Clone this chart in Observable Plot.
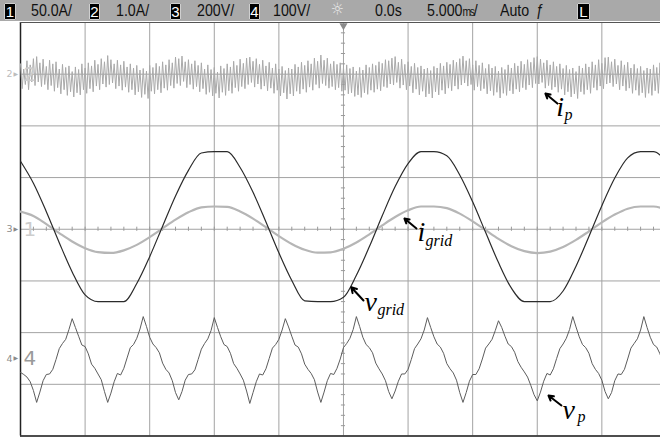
<!DOCTYPE html>
<html><head><meta charset="utf-8">
<script src="https://cdn.jsdelivr.net/npm/d3@7"></script>
<script src="https://cdn.jsdelivr.net/npm/@observablehq/plot@0.6"></script>
<style>
body{margin:0;background:#fff;width:660px;height:439px;overflow:hidden}
#hdr{position:relative;height:21px;background:#a9a9a9;font-family:"Liberation Sans",Arial,sans-serif;font-size:16.5px;color:#111}
#hdr span.t{position:absolute;top:1px;line-height:19px;white-space:nowrap;transform:scaleX(0.86);transform-origin:0 0}
#hdr span.box{position:absolute;background:#000;color:#fff;top:3px;height:17px;line-height:17px;text-align:center;font-size:15px;font-family:"Liberation Sans",Arial,sans-serif;box-shadow:inset 0 0 0 1px #cfcfcf;border-radius:1px}
#hdr span.ms{font-size:12px;letter-spacing:-1.5px}
#chart svg{display:block}
</style></head><body>
<div id="hdr"></div>
<div id="chart"></div>
<script>
// ---------- header texts ----------
const hdrTexts = ["1","50.0A/","2","1.0A/","3","200V/","4","100V/","\u263C","0.0s","5.000|ms|/","Auto","\u0192","L"];
const hdrBoxes = [0,2,4,6,13];
const hdrLeft  = [4,31,89,116,170,197,249,273,331,375,427,500,536,577];
const hdrWidth = {0:12,2:11,4:11,6:11,13:13};

// ---------- axes (divisions) ----------
const xTicks = [-25,-20,-15,-10,-5,0,5,10,15,20];     // ms, 5 ms/div
const yTicks = [-4,-3,-2,-1,0,1,2,3,4];               // divisions
const minorX = d3.range(-24, 25, 1);
const minorY = d3.range(-3.8, 3.9, 0.2);

// channel scale (units/div) and ground offset (div)
const chScale  = {i_grid:50, i_p:1, v_grid:200, v_p:100};
const chOffset = {i_grid:0,  i_p:3, v_grid:0,   v_p:-2.5};

// ---------- grid quantities, sampled every 1 ms from -25 ms ----------
const gridT0 = -25, gridDt = 1;
const vGrid = [263,178,68,-52,-165,-254,-280,-280,-280,-210,-106,12,129,228,295,300,300,239,143,28,-91,-198,-277,-280,-280,-263,-178,-68,52,165,254,300,300,284,210,106,-12,-129,-228,-280,-280,-280,-239,-143,-28,91,198,276,300,300,263];
const iGrid = [17,12.8,4.9,-3.7,-11.8,-18.3,-22.1,-22.9,-20.4,-15.1,-7.6,0.9,9.3,16.4,21.2,22,21.6,17.2,10.3,2.0,-6.6,-14.2,-19.9,-22.7,-22.4,-18.9,-12.8,-4.9,3.7,11.8,18.3,22,22,20.4,15.1,7.6,-0.9,-9.3,-16.4,-21.2,-23,-21.6,-17.2,-10.3,-2.0,6.6,14.2,19.9,22,22,18.9];

// ---------- converter quantities, sampled every 0.25 ms from -25 ms ----------
const fastT0 = -25, fastDt = 0.25;
const vP = [-27,-31,-36,-45,-62,
 -85,-65,-43,-31,-30,-21,-2,19,29,37,56,77,60,43,26,23,9,-11,-19,-30,-41,-64,
 -85,-67,-45,-29,-32,-19,1,21,27,39,57,81,62,41,28,21,11,-9,-21,-28,-43,-66,
 -80,-64,-42,-31,-30,-22,-2,18,29,38,54,79,60,42,27,23,10,-10,-19,-30,-42,-63,
 -87,-66,-45,-30,-32,-20,0,20,27,37,55,77,61,43,26,22,9,-11,-21,-29,-41,-65,
 -85,-65,-43,-29,-31,-19,-1,21,29,39,56,81,62,41,27,21,11,-9,-20,-30,-43,-64,
 -78,-63,-44,-30,-30,-21,-2,19,28,38,55,79,60,42,28,22,10,-10,-20,-28,-42,-66,
 -85,-66,-44,-31,-31,-20,-1,20,28,37,54,73,60,43,28,23,12,-6,-17,-26,-36,-52,-70,
 -82,-65,-44,-29,-32,-20,0,19,28,39,56,81,61,42,27,21,10,-10,-21,-29,-42,-64,
 -78,-66,-43,-30,-31,-21,-1,20,29,38,55,81,60,41,27,22,9,-11,-20];
const ipHi = [0.2,0.1,0.26,0.18,0.3,
 0.34,0.22,0.29,0.15,0.27,0.2,0.24,0.1,0.19,0.13,0.16,0.05,0.14,0.09,0.2,0.12,0.22,0.16,0.27,0.19,0.3,0.24,
 0.36,0.28,0.2,0.27,0.18,0.25,0.14,0.2,0.12,0.17,0.08,0.11,0.06,0.17,0.13,0.21,0.15,0.24,0.18,0.28,0.22,0.33,
 0.3,0.35,0.24,0.28,0.2,0.26,0.17,0.22,0.1,0.18,0.09,0.13,0.04,0.16,0.11,0.2,0.14,0.25,0.17,0.29,0.21,0.31,
 0.33,0.25,0.3,0.19,0.27,0.16,0.23,0.12,0.2,0.1,0.15,0.07,0.12,0.1,0.19,0.14,0.23,0.17,0.26,0.2,0.31,0.25,
 0.37,0.27,0.31,0.2,0.25,0.19,0.22,0.13,0.18,0.11,0.14,0.06,0.13,0.08,0.18,0.13,0.2,0.17,0.24,0.21,0.28,0.26,
 0.31,0.34,0.23,0.29,0.19,0.24,0.15,0.21,0.13,0.16,0.1,0.12,0.07,0.15,0.12,0.21,0.16,0.23,0.19,0.27,0.23,0.3,
 0.35,0.26,0.3,0.18,0.26,0.17,0.22,0.11,0.19,0.12,0.15,0.06,0.13,0.09,0.18,0.12,0.21,0.16,0.25,0.19,0.28,0.23,0.32,
 0.34,0.29,0.22,0.27,0.18,0.24,0.15,0.2,0.11,0.17,0.09,0.12,0.05,0.16,0.12,0.2,0.14,0.24,0.18,0.28,0.21,0.32,
 0.33,0.24,0.29,0.17,0.26,0.18,0.23,0.12,0.19,0.11,0.15,0.07,0.12,0.1,0.18,0.13,0.22,0.16,0.25];
const ipLo = [-0.28,-0.2,-0.3,-0.15,-0.22,
 -0.15,-0.24,-0.2,-0.3,-0.22,-0.33,-0.26,-0.38,-0.3,-0.41,-0.34,-0.44,-0.36,-0.4,-0.3,-0.37,-0.28,-0.34,-0.23,-0.3,-0.19,-0.25,
 -0.2,-0.17,-0.28,-0.23,-0.31,-0.25,-0.35,-0.3,-0.4,-0.34,-0.45,-0.39,-0.47,-0.33,-0.38,-0.3,-0.36,-0.27,-0.31,-0.22,-0.27,-0.18,
 -0.22,-0.14,-0.26,-0.2,-0.29,-0.24,-0.34,-0.28,-0.39,-0.35,-0.42,-0.37,-0.46,-0.35,-0.41,-0.32,-0.37,-0.26,-0.33,-0.24,-0.28,-0.2,
 -0.16,-0.25,-0.19,-0.29,-0.23,-0.32,-0.27,-0.37,-0.31,-0.42,-0.36,-0.48,-0.38,-0.42,-0.33,-0.38,-0.29,-0.35,-0.25,-0.31,-0.2,-0.27,
 -0.18,-0.22,-0.27,-0.24,-0.3,-0.26,-0.33,-0.31,-0.38,-0.36,-0.43,-0.4,-0.45,-0.36,-0.39,-0.31,-0.35,-0.29,-0.32,-0.24,-0.26,-0.19,
 -0.21,-0.16,-0.27,-0.21,-0.3,-0.23,-0.36,-0.29,-0.4,-0.33,-0.44,-0.38,-0.46,-0.34,-0.4,-0.31,-0.38,-0.27,-0.32,-0.23,-0.29,-0.21,
 -0.17,-0.23,-0.2,-0.31,-0.24,-0.32,-0.28,-0.38,-0.32,-0.41,-0.35,-0.46,-0.37,-0.41,-0.32,-0.38,-0.29,-0.34,-0.26,-0.3,-0.21,-0.26,-0.18,
 -0.19,-0.16,-0.27,-0.22,-0.3,-0.25,-0.35,-0.29,-0.4,-0.34,-0.44,-0.38,-0.47,-0.34,-0.39,-0.3,-0.37,-0.26,-0.31,-0.23,-0.28,-0.19,
 -0.17,-0.24,-0.19,-0.3,-0.23,-0.32,-0.27,-0.37,-0.31,-0.41,-0.36,-0.45,-0.37,-0.41,-0.32,-0.37,-0.28,-0.35,-0.25];

// channel ground markers
const markers = [
  {ch:"2", big:"2", div:3,    c1:"#bdbdbd", c2:"#cdcdcd"},
  {ch:"3", big:"1", div:0,    c1:"#8a8a8a", c2:"#cdcdcd"},
  {ch:"4", big:"4", div:-2.5, c1:"#8a8a8a", c2:"#9a9a9a"}
];

// annotations (time ms, division)
const notes = [
  {main:"i", sub:"p",    mt:16.48, md:2.199,  st:17.11, sd:2.122,  at1:16.56, ad1:2.431,  at2:15.63, ad2:2.625},
  {main:"i", sub:"grid", mt:5.73,  md:-0.219, st:6.35,  sd:-0.315, at1:5.65,  ad1:0.014,  at2:4.72,  ad2:0.207},
  {main:"v", sub:"grid", mt:1.63,  md:-1.572, st:2.63,  sd:-1.650, at1:1.55,  ad1:-1.379, at2:0.60,  ad2:-1.122},
  {main:"v", sub:"p",    mt:16.95, md:-3.662, st:18.11, sd:-3.720, at1:16.87, ad1:-3.410, at2:15.87, ad2:-3.217}
];

// ---------- build header ----------
const hdr = document.getElementById("hdr");
hdrTexts.forEach((txt, i) => {
  const s = document.createElement("span");
  s.style.left = hdrLeft[i] + "px";
  if (hdrBoxes.includes(i)) { s.className = "box"; s.style.width = hdrWidth[i] + "px"; }
  else s.className = "t";
  if (txt.includes("|")) {
    const [a, b, c] = txt.split("|");
    s.append(a);
    const m = document.createElement("span"); m.className = "ms"; m.textContent = b; s.append(m);
    s.append(c);
  } else s.textContent = txt;
  if (txt === "\u263C") { s.style.fontFamily = "DejaVu Sans"; s.style.fontSize = "17px"; s.style.color = "#e8e8e8"; s.style.top = "0px"; }
  hdr.appendChild(s);
});

// ---------- rows ----------
const toDiv = (v, ch) => v / chScale[ch] + chOffset[ch];
const vGridRows = vGrid.map((v, i) => ({t: gridT0 + i * gridDt, y: toDiv(v, "v_grid")}));
const iGridRows = iGrid.map((v, i) => ({t: gridT0 + i * gridDt, y: toDiv(v, "i_grid")}));
const vPRows = vP.map((v, i) => ({t: fastT0 + i * fastDt, y: toDiv(v, "v_p")}));
const ipRows = [];
for (let i = 0; i < Math.min(ipHi.length, ipLo.length); i++) {
  const t = fastT0 + i * fastDt;
  ipRows.push({t, y: toDiv(ipHi[i], "i_p")});
  ipRows.push({t: t + fastDt / 2, y: toDiv(ipLo[i], "i_p")});
}

const serif = "'Liberation Serif','Times New Roman',serif";
const chart = Plot.plot({
  width: 660, height: 418,
  marginTop: 1, marginBottom: 3.5, marginLeft: 20, marginRight: 0,
  x: {domain: [-25, 24.54], axis: null},
  y: {domain: [-4, 4], axis: null},
  style: {background: "transparent", overflow: "visible"},
  marks: [
    Plot.ruleX(xTicks, {stroke: "#a3a3a3", strokeWidth: 1}),
    Plot.ruleY(yTicks, {stroke: "#a3a3a3", strokeWidth: 1}),
    Plot.ruleX(minorX, {x: d => d, y1: -0.04, y2: 0.04, stroke: "#9a9a9a"}),
    Plot.ruleY(minorY, {y: d => d, x1: -0.16, x2: 0.16, stroke: "#9a9a9a"}),
    Plot.ruleX([-25], {stroke: "#222", strokeWidth: 1.5}),
    Plot.ruleY([-4], {stroke: "#222", strokeWidth: 1.5}),
    Plot.ruleY([4], {stroke: "#555", strokeWidth: 1}),
    Plot.dot([0], {x: d => d, y: () => 4, symbol: "triangle", rotate: 180, r: 3, fill: "#8a8a8a", stroke: null, dy: 3}),
    Plot.line(ipRows, {x: "t", y: "y", stroke: "#a9a9a9", strokeWidth: 1, clip: true}),
    Plot.line(iGridRows, {x: "t", y: "y", stroke: "#b6b6b6", strokeWidth: 2.2, curve: "monotone-x", clip: true}),
    Plot.line(vGridRows, {x: "t", y: "y", stroke: "#2b2b2b", strokeWidth: 1.2, curve: "monotone-x", clip: true}),
    Plot.line(vPRows, {x: "t", y: "y", stroke: "#5c5c5c", strokeWidth: 1, clip: true}),
    // channel ground markers (drawn above the traces)
    Plot.text(markers, {frameAnchor: "left", y: "div", text: "ch", dx: -14, textAnchor: "start", fontSize: 9.5, fill: "c1", fontFamily: "DejaVu Sans"}),
    Plot.text(markers, {frameAnchor: "left", y: "div", text: () => "\u25B6", dx: -7, textAnchor: "start", fontSize: 6, fill: "c1", fontFamily: "DejaVu Sans"}),
    Plot.text(markers, {frameAnchor: "left", y: "div", text: "big", dx: 3, textAnchor: "start", fontSize: 20, fill: "c2", fontFamily: "DejaVu Sans"}),
    // annotations
    Plot.arrow(notes, {x1: "at1", y1: "ad1", x2: "at2", y2: "ad2", stroke: "#000", strokeWidth: 2, headLength: 8}),
    Plot.text(notes, {x: "mt", y: "md", text: "main", textAnchor: "start", lineAnchor: "bottom", fontFamily: serif, fontStyle: "italic", fontSize: 28, fill: "#000"}),
    Plot.text(notes, {x: "st", y: "sd", text: "sub", textAnchor: "start", lineAnchor: "bottom", fontFamily: serif, fontStyle: "italic", fontSize: 16, fill: "#000"})
  ]
});
document.getElementById("chart").appendChild(chart);
</script>
</body></html>
